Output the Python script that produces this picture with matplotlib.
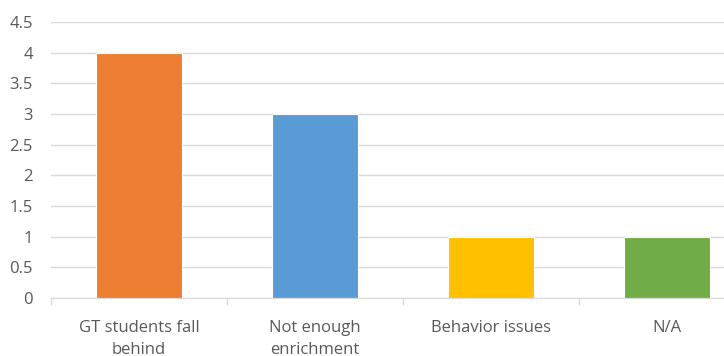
import matplotlib.pyplot as plt
import numpy as np

categories = ["GT students fall\nbehind", "Not enough\nenrichment", "Behavior issues", "N/A"]
counts = [4, 3, 1, 1]
colors = ["#ED7D31", "#5B9BD5", "#FFC000", "#70AD47"]
y_ticks = [0, 0.5, 1, 1.5, 2, 2.5, 3, 3.5, 4, 4.5]
y_labels = ["0", "0.5", "1", "1.5", "2", "2.5", "3", "3.5", "4", "4.5"]

plt.rcParams['font.family'] = ['Open Sans', 'DejaVu Sans']

fig = plt.figure(figsize=(7.24, 3.56), dpi=100)
ax = fig.add_axes([51 / 724, 58 / 356, 704 / 724, 276 / 356])

x = np.arange(len(categories))
ax.bar(x, counts, width=0.49, color=colors, edgecolor="white", linewidth=0.8, zorder=3)

ax.set_xlim(-0.5, len(categories) - 0.5)
ax.set_ylim(0, 4.5)
ax.set_yticks(y_ticks)
ax.set_yticklabels(y_labels)
ax.grid(axis="y", color="#D9D9D9", linewidth=1, zorder=0)

ax.set_xticks(x)
ax.set_xticklabels(categories, linespacing=1.5)
ax.set_xticks(np.arange(len(categories) + 1) - 0.5, minor=True)
ax.tick_params(axis="x", which="major", length=0, pad=15.5)
ax.tick_params(axis="x", which="minor", length=5, color="#D9D9D9", width=1)
ax.tick_params(axis="y", length=0, pad=13)
ax.tick_params(labelsize=12, labelcolor="#595959")

for side in ["top", "right", "left"]:
    ax.spines[side].set_visible(False)
ax.spines["bottom"].set_color("#D9D9D9")
ax.spines["bottom"].set_zorder(4)

fig.savefig("out.png", dpi=100)
